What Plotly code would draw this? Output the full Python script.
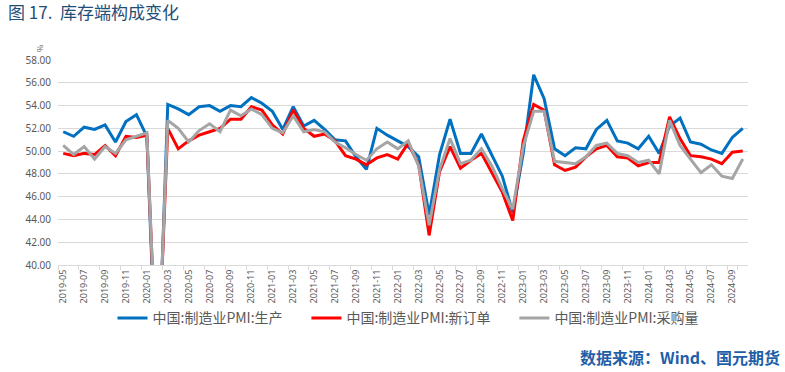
import plotly.graph_objects as go

months = []
for y in range(2019, 2025):
    for m in range(1, 13):
        if (y == 2019 and m < 5) or (y == 2024 and m > 10):
            continue
        months.append(f"{y}-{m:02d}")

production = [51.7, 51.3, 52.1, 51.9, 52.3, 50.8, 52.6, 53.2,
              51.3, 27.8, 54.1, 53.7, 53.2, 53.9, 54.0, 53.5, 54.0, 53.9, 54.7, 54.2,
              53.5, 51.9, 53.9, 52.2, 52.7, 51.9, 51.0, 50.9, 49.5, 48.4, 52.0, 51.4,
              50.9, 50.4, 49.5, 44.4, 49.7, 52.8, 49.8, 49.8, 51.5, 49.6, 47.8, 44.6,
              49.8, 56.7, 54.6, 50.2, 49.6, 50.3, 50.2, 51.9, 52.7, 50.9, 50.7, 50.2,
              51.3, 49.8, 52.2, 52.9, 50.8, 50.6, 50.1, 49.8, 51.2, 52.0]

new_orders = [49.8, 49.6, 49.8, 49.7, 50.5, 49.6, 51.3, 51.2,
              51.4, 29.3, 52.0, 50.2, 50.9, 51.4, 51.7, 52.0, 52.8, 52.8, 53.9, 53.6,
              52.3, 51.5, 53.6, 52.0, 51.3, 51.5, 50.9, 49.6, 49.3, 48.8, 49.4, 49.7,
              49.3, 50.7, 48.8, 42.6, 48.2, 50.4, 48.5, 49.2, 49.8, 48.1, 46.4, 43.9,
              50.9, 54.1, 53.6, 48.8, 48.3, 48.6, 49.5, 50.2, 50.5, 49.5, 49.4, 48.7,
              49.0, 49.0, 53.0, 51.1, 49.6, 49.5, 49.3, 48.9, 49.9, 50.0]

purchase = [50.5, 49.7, 50.4, 49.3, 50.4, 49.8, 51.0, 51.3,
            51.6, 29.3, 52.7, 52.0, 50.8, 51.8, 52.4, 51.7, 53.6, 53.1, 53.7, 53.2,
            52.0, 51.6, 53.1, 51.7, 51.9, 51.7, 50.8, 50.3, 49.7, 49.2, 50.2, 50.8,
            50.2, 50.9, 48.7, 43.5, 48.4, 51.1, 48.9, 49.2, 50.2, 48.7, 46.7, 44.9,
            50.4, 53.5, 53.5, 49.1, 49.0, 48.9, 49.5, 50.5, 50.7, 49.8, 49.6, 49.0,
            49.2, 48.0, 52.7, 50.5, 49.3, 48.1, 48.8, 47.8, 47.6, 49.3]

series_names = ["中国:制造业PMI:生产", "中国:制造业PMI:新订单", "中国:制造业PMI:采购量"]
colors = ["#0070C0", "#FF0000", "#A5A5A5"]
tick_labels = months[::2]
y_ticks = [40, 42, 44, 46, 48, 50, 52, 54, 56, 58]

pad = "\u00a0" * 6
fig = go.Figure()
for i, (name, vals, c) in enumerate(zip(series_names, [production, new_orders, purchase], colors)):
    label = name + (pad if i < 2 else "")
    fig.add_trace(go.Scatter(x=months, y=vals, name=label, mode="lines",
                             line=dict(color=c, width=3)))

fig.update_layout(
    width=785, height=372,
    paper_bgcolor="white", plot_bgcolor="white",
    margin=dict(l=58, r=37, t=60, b=107),
    font=dict(family="Noto Sans CJK SC, Noto Sans, sans-serif", color="#595959"),
    title=dict(text="图 17.  库存端构成变化", x=8/785, xanchor="left", xref="container",
               y=1-13/372, yanchor="middle", yref="container",
               font=dict(size=17, color="#1F4E79", family="Noto Sans CJK SC")),
    showlegend=True,
    legend=dict(orientation="h", x=0.5 + 5/690, xanchor="center", y=-0.26, yanchor="middle",
                font=dict(size=14, color="#595959"), itemwidth=30,
                bgcolor="rgba(0,0,0,0)"),
    xaxis=dict(type="category", range=[-0.5, len(months) - 0.5],
               tickmode="array", tickvals=tick_labels, ticktext=tick_labels,
               tickson="boundaries", tickangle=-90, ticks="outside", ticklen=4,
               tickcolor="#D9D9D9", showline=True, linecolor="#D9D9D9", linewidth=1,
               showgrid=False, tickfont=dict(size=9, color="#595959", family="Noto Sans")),
    yaxis=dict(range=[40, 58], tickmode="array", tickvals=y_ticks, tickformat=".2f",
               showgrid=True, gridcolor="#D9D9D9", gridwidth=1, zeroline=False,
               showline=False, ticks="", ticklabelstandoff=6,
               tickfont=dict(size=10, color="#595959", family="Noto Sans")),
    annotations=[
        dict(text="%", xref="paper", yref="paper", x=(40-58)/690, y=1+(60-48)/205,
             showarrow=False, textangle=-90, font=dict(size=8, color="#595959"),
             xanchor="center", yanchor="middle"),
        dict(text="<b>数据来源：Wind、国元期货</b>", xref="paper", yref="paper",
             x=(782-58)/690, y=-(357-265)/205, xanchor="right", yanchor="middle",
             showarrow=False, font=dict(size=16, color="#1F5FA8", family="Noto Sans CJK SC")),
    ],
)

fig.write_html("out.html", config={"displayModeBar": False},
               post_script="document.body.style.margin='0px';document.body.style.padding='0px';")
